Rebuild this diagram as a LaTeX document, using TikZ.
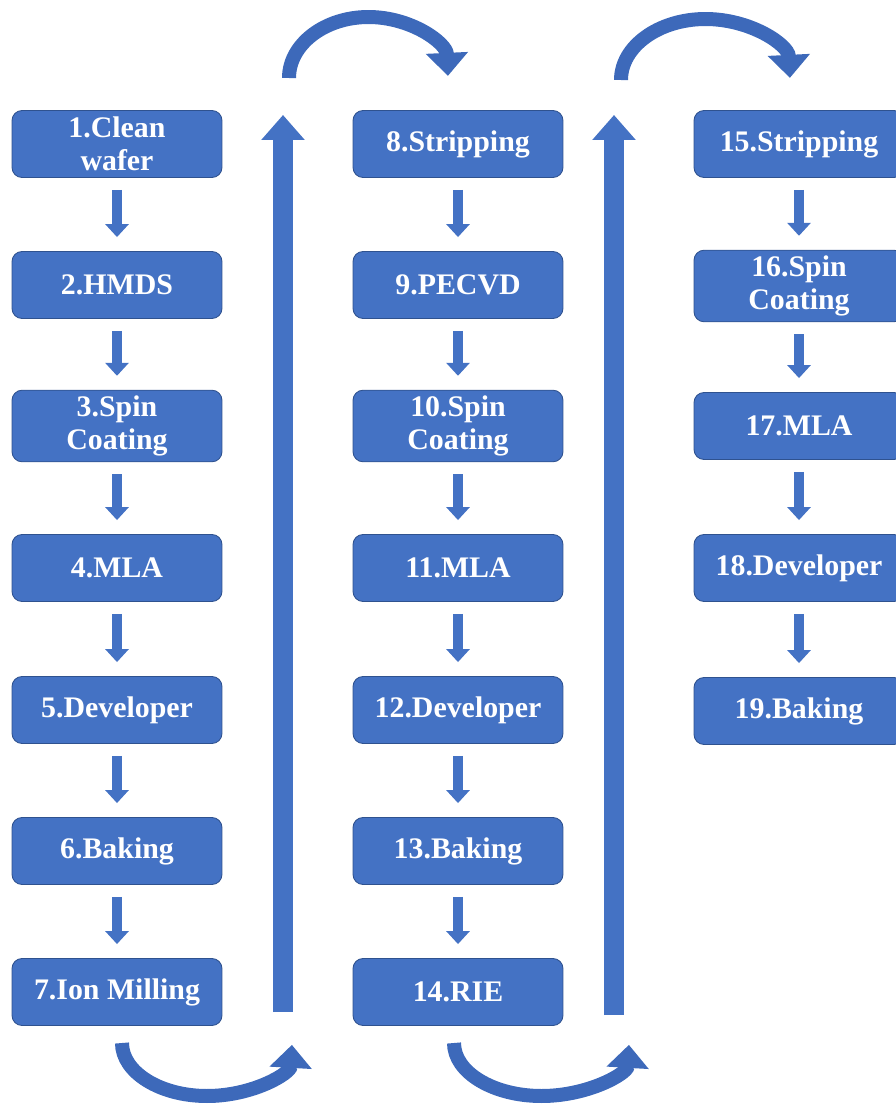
\documentclass[tikz,border=0pt]{standalone}
\usepackage{fontspec}
\setmainfont{Liberation Serif}
\usetikzlibrary{arrows.meta, positioning, calc}

\definecolor{boxblue}{HTML}{4472C4}
\definecolor{edgeblue}{HTML}{2F528F}
\definecolor{arcblue}{HTML}{3D69BA}

\tikzset{
	stepbox/.style={rectangle, rounded corners=0.2cm, fill=boxblue, draw=edgeblue, line width=0.5pt,
		minimum width=4.2cm, minimum height=1.34cm, align=center, text=white,
		font=\bfseries\fontsize{17}{18.5}\selectfont},
	flow/.style={boxblue, line width=0.2cm, shorten <=0.24cm, shorten >=0.28cm,
		-{Triangle[width=0.46cm, length=0.26cm]}},
	bigflow/.style={boxblue, line width=0.4cm, -{Triangle[width=0.84cm, length=0.5cm]}},
	turn/.style={arcblue, line width=0.28cm, -{Triangle[width=0.82cm, length=0.46cm]}}
}

\begin{document}
\begin{tikzpicture}[x=0.02cm, y=-0.02cm]
		\useasboundingbox (0,0) rectangle (895,1104);
		% first column
		\node[stepbox] (s1) at (117,144) {1.Clean\\wafer};
		\node[stepbox] (s2) at (117,285) {2.HMDS};
		\node[stepbox] (s3) at (117,426) {3.Spin\\Coating};
		\node[stepbox] (s4) at (117,568) {4.MLA};
		\node[stepbox] (s5) at (117,710) {5.Developer};
		\node[stepbox] (s6) at (117,851) {6.Baking};
		\node[stepbox] (s7) at (117,992) {7.Ion Milling};
		% second column
		\node[stepbox] (s8) at (458,144) {8.Stripping};
		\node[stepbox] (s9) at (458,285) {9.PECVD};
		\node[stepbox] (s10) at (458,426) {10.Spin\\Coating};
		\node[stepbox] (s11) at (458,568) {11.MLA};
		\node[stepbox] (s12) at (458,710) {12.Developer};
		\node[stepbox] (s13) at (458,851) {13.Baking};
		\node[stepbox] (s14) at (458,992) {14.RIE};
		% third column
		\node[stepbox] (s15) at (799,144) {15.Stripping};
		\node[stepbox] (s16) at (799,286) {16.Spin\\Coating};
		\node[stepbox] (s17) at (799,426) {17.MLA};
		\node[stepbox] (s18) at (799,568) {18.Developer};
		\node[stepbox] (s19) at (799,711) {19.Baking};

		\foreach \a/\b in {1/2,2/3,3/4,4/5,5/6,6/7,8/9,9/10,10/11,11/12,12/13,13/14,15/16,16/17,17/18,18/19}
			\draw[flow] (s\a) -- (s\b);

		% going back up between columns
		\coordinate (up1 bot) at (283,1012);
		\coordinate (up1 top) at (283,115);
		\coordinate (up2 bot) at (614,1015);
		\coordinate (up2 top) at (614,115);
		\draw[bigflow] (up1 bot) -- (up1 top);
		\draw[bigflow] (up2 bot) -- (up2 top);

		% turning arcs
		\coordinate (bend1) at (122,1043);
		\coordinate (bend2) at (289,78);
		\coordinate (bend3) at (454,1043);
		\coordinate (bend4) at (621,80);
		\draw[turn] (bend1) arc[start angle=180, end angle=358, x radius=1.7cm, y radius=1.06cm];
		\draw[turn] (bend2) arc[start angle=180, end angle=2, x radius=1.59cm, y radius=1.22cm];
		\draw[turn] (bend3) arc[start angle=180, end angle=358, x radius=1.75cm, y radius=1.06cm];
		\draw[turn] (bend4) arc[start angle=180, end angle=2, x radius=1.69cm, y radius=1.22cm];
	\end{tikzpicture}
\end{document}
